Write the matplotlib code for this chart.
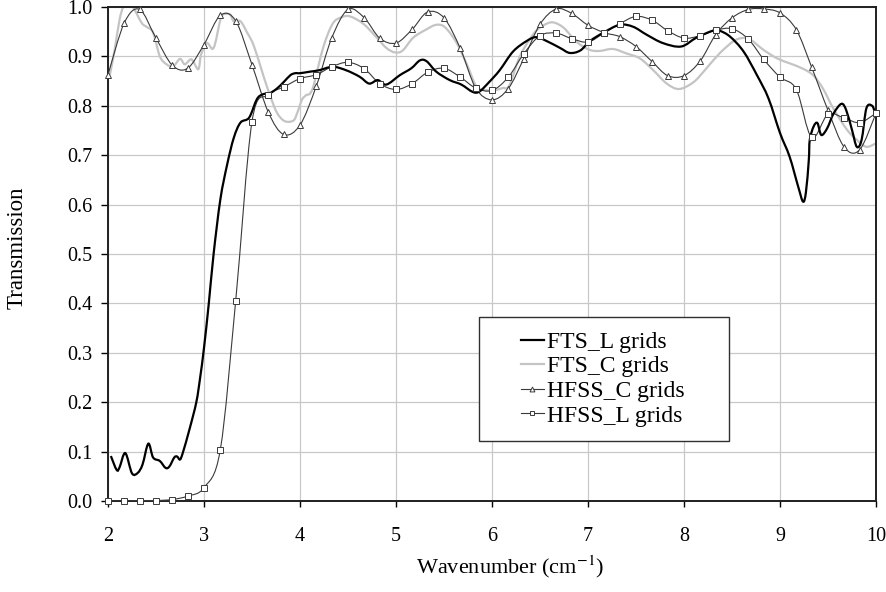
import matplotlib
matplotlib.use('Agg')
import matplotlib.pyplot as plt
import numpy as np
from matplotlib import rc
from matplotlib.path import Path
from matplotlib.patches import PathPatch, Rectangle
from matplotlib.lines import Line2D

rc('font', family='serif', serif=['Liberation Serif', 'DejaVu Serif'])
rc('mathtext', fontset='stix')

# HFSS simulated points (one marker every 1/6 cm^-1)
hfss_x = [2.00, 2.17, 2.33, 2.50, 2.67, 2.83, 3.00, 3.17, 3.33, 3.50,
          3.67, 3.83, 4.00, 4.17, 4.33, 4.50, 4.67, 4.83, 5.00, 5.17,
          5.33, 5.50, 5.67, 5.83, 6.00, 6.17, 6.33, 6.50, 6.67, 6.83,
          7.00, 7.17, 7.33, 7.50, 7.67, 7.83, 8.00, 8.17, 8.33, 8.50,
          8.67, 8.83, 9.00, 9.17, 9.33, 9.50, 9.67, 9.83, 10.00]
hfss_c = [0.863, 0.968, 0.995, 0.937, 0.882, 0.876, 0.924, 0.983, 0.972, 0.883,
          0.787, 0.742, 0.761, 0.840, 0.937, 0.995, 0.978, 0.937, 0.927, 0.955,
          0.990, 0.978, 0.916, 0.836, 0.812, 0.835, 0.895, 0.965, 0.996, 0.987,
          0.963, 0.948, 0.940, 0.920, 0.889, 0.861, 0.861, 0.891, 0.944, 0.978,
          0.995, 0.996, 0.988, 0.954, 0.878, 0.791, 0.716, 0.711, 0.785]
hfss_l = [0.000, 0.000, 0.001, 0.001, 0.003, 0.010, 0.027, 0.104, 0.405, 0.768,
          0.822, 0.838, 0.855, 0.863, 0.879, 0.888, 0.875, 0.845, 0.833, 0.845,
          0.868, 0.876, 0.858, 0.836, 0.831, 0.858, 0.905, 0.942, 0.947, 0.936,
          0.929, 0.948, 0.966, 0.981, 0.973, 0.952, 0.937, 0.942, 0.953, 0.956,
          0.935, 0.894, 0.858, 0.833, 0.736, 0.783, 0.775, 0.766, 0.785]

# FTS measured, L grids
fts_l_x = [2.03, 2.09, 2.12, 2.18, 2.25, 2.31, 2.36, 2.42, 2.47,
           2.54, 2.60, 2.64, 2.69, 2.72, 2.75, 2.78, 2.85, 2.92, 2.96,
           3.00, 3.05, 3.10, 3.17, 3.24, 3.31, 3.38, 3.47, 3.55, 3.61,
           3.69, 3.76, 3.83, 3.90, 3.95, 4.00, 4.10, 4.20, 4.34, 4.48,
           4.62, 4.72, 4.81, 4.90, 5.04, 5.16, 5.25, 5.32, 5.42, 5.56,
           5.68, 5.80, 5.87, 5.97, 6.08, 6.22, 6.36, 6.46, 6.57, 6.71,
           6.81, 6.92, 7.02, 7.16, 7.33, 7.47, 7.61, 7.78, 7.97, 8.13,
           8.30, 8.37, 8.48, 8.62, 8.76, 8.88, 9.00, 9.10, 9.19, 9.24,
           9.27, 9.30, 9.31, 9.35, 9.39, 9.43, 9.49, 9.56, 9.64, 9.69,
           9.75, 9.80, 9.85, 9.90, 9.96, 9.99]
fts_l_y = [0.091, 0.063, 0.068, 0.097, 0.056, 0.057, 0.074, 0.116, 0.088,
           0.081, 0.067, 0.070, 0.088, 0.090, 0.084, 0.098, 0.146, 0.200, 0.250,
           0.310, 0.400, 0.500, 0.610, 0.680, 0.735, 0.766, 0.776, 0.813, 0.823,
           0.826, 0.835, 0.848, 0.862, 0.866, 0.866, 0.869, 0.872, 0.879, 0.872,
           0.859, 0.845, 0.852, 0.843, 0.862, 0.876, 0.892, 0.890, 0.869, 0.852,
           0.843, 0.828, 0.829, 0.848, 0.872, 0.910, 0.931, 0.939, 0.931, 0.917,
           0.907, 0.912, 0.931, 0.948, 0.964, 0.960, 0.944, 0.927, 0.920, 0.938,
           0.952, 0.952, 0.940, 0.910, 0.862, 0.815, 0.745, 0.697, 0.636, 0.606,
           0.625, 0.690, 0.731, 0.758, 0.765, 0.741, 0.754, 0.785, 0.804, 0.791,
           0.751, 0.717, 0.731, 0.795, 0.800, 0.785]

# FTS measured, C grids
fts_c_x = [2.02, 2.07, 2.12, 2.16, 2.21, 2.26, 2.35, 2.40, 2.47, 2.54,
           2.61, 2.68, 2.75, 2.80, 2.87, 2.94, 2.97, 3.03, 3.10, 3.17,
           3.20, 3.27, 3.31, 3.38, 3.45, 3.52, 3.62, 3.69, 3.76, 3.84,
           3.93, 3.97, 4.02, 4.06, 4.13, 4.24, 4.34, 4.43, 4.52, 4.66,
           4.80, 4.90, 4.99, 5.07, 5.18, 5.32, 5.42, 5.51, 5.63, 5.74,
           5.82, 5.87, 6.01, 6.11, 6.18, 6.29, 6.43, 6.53, 6.63, 6.74,
           6.84, 6.91, 7.02, 7.12, 7.26, 7.40, 7.54, 7.68, 7.82, 7.95,
           8.10, 8.23, 8.37, 8.51, 8.60, 8.69, 8.83, 8.97, 9.10, 9.24,
           9.35, 9.45, 9.56, 9.70, 9.80, 9.90, 10.00]
fts_c_y = [0.863, 0.914, 0.974, 1.000, 1.005, 1.000, 0.968, 0.960, 0.948, 0.900,
           0.884, 0.880, 0.895, 0.884, 0.894, 0.874, 0.904, 0.927, 0.917, 0.974,
           0.985, 0.985, 0.971, 0.971, 0.948, 0.921, 0.860, 0.820, 0.786, 0.769,
           0.770, 0.785, 0.812, 0.821, 0.834, 0.917, 0.966, 0.979, 0.981, 0.966,
           0.938, 0.917, 0.908, 0.912, 0.938, 0.955, 0.964, 0.959, 0.928, 0.883,
           0.845, 0.834, 0.831, 0.836, 0.841, 0.900, 0.945, 0.962, 0.969, 0.959,
           0.938, 0.925, 0.913, 0.911, 0.915, 0.906, 0.896, 0.872, 0.845, 0.834,
           0.848, 0.875, 0.906, 0.930, 0.937, 0.934, 0.913, 0.896, 0.886, 0.875,
           0.861, 0.834, 0.793, 0.751, 0.731, 0.717, 0.724]

labels = ['FTS_L grids', 'FTS_C grids', 'HFSS_C grids', 'HFSS_L grids']


def smooth_path(x, y):
    # Excel-style smoothed line: Catmull-Rom segments as cubic Bezier curves
    px = np.concatenate([[x[0]], x, [x[-1]]])
    py = np.concatenate([[y[0]], y, [y[-1]]])
    verts = [(x[0], y[0])]
    codes = [Path.MOVETO]
    for i in range(len(x) - 1):
        c1 = (px[i+1] + (px[i+2] - px[i]) / 6, py[i+1] + (py[i+2] - py[i]) / 6)
        c2 = (px[i+2] - (px[i+3] - px[i+1]) / 6, py[i+2] - (py[i+3] - py[i+1]) / 6)
        verts += [c1, c2, (px[i+2], py[i+2])]
        codes += [Path.CURVE4] * 3
    return Path(verts, codes)


def graph():
    fig = plt.figure(figsize=(8.86, 5.92), dpi=100)
    ax = fig.add_axes([108/886, 1 - 501/592, 768/886, 494/592])

    line_c = '#3a3a3a'
    ax.add_patch(PathPatch(smooth_path(fts_c_x, fts_c_y), fill=False,
                           edgecolor='#c4c4c4', lw=1.6, zorder=2))
    ax.add_patch(PathPatch(smooth_path(hfss_x, hfss_c), fill=False,
                           edgecolor=line_c, lw=0.8, zorder=3))
    ax.add_patch(PathPatch(smooth_path(hfss_x, hfss_l), fill=False,
                           edgecolor=line_c, lw=0.8, zorder=3))
    ax.add_patch(PathPatch(smooth_path(fts_l_x, fts_l_y), fill=False,
                           edgecolor='black', lw=1.6, zorder=4))
    ax.plot(hfss_x, hfss_c, ls='none', marker='^', ms=4.8, mfc='white',
            mec=line_c, mew=0.7, zorder=5, clip_on=False)
    ax.plot(hfss_x, hfss_l, ls='none', marker='s', ms=4.0, mfc='white',
            mec=line_c, mew=0.7, zorder=5, clip_on=False)

    ax.set_xlim(2, 10)
    ax.set_ylim(0, 1.0)
    ax.set_xticks(np.arange(2, 11, 1))
    ax.set_yticks(np.arange(0, 1.01, 0.1))
    ax.set_yticklabels(['%.1f' % v for v in np.arange(0, 1.01, 0.1)])
    ax.grid(True, color='#c8c8c8', lw=0.9)
    ax.set_axisbelow(True)
    for axis in ['top', 'bottom', 'left', 'right']:
        ax.spines[axis].set_linewidth(1.4)
        ax.spines[axis].set_color('#202020')
    ax.tick_params(axis='x', direction='out', length=4.5, width=1,
                   pad=14, labelsize=14.5)
    ax.tick_params(axis='y', direction='out', length=5, width=1,
                   pad=6, labelsize=14.5)

    fig.text(510/886, 1 - 567/592, r'Wavenumber (cm$^{-1}$)', fontsize=16,
             ha='center', va='center')
    fig.text(17/886, 1 - 248/592, 'Transmission', fontsize=16.5,
             rotation=90, ha='center', va='center')

    # legend box
    ax.add_patch(Rectangle((0.483, 0.1215), 0.326, 0.251, transform=ax.transAxes,
                           facecolor='white', edgecolor='#303030', lw=1.0,
                           zorder=6))
    handles = [Line2D([], [], color='black', lw=1.6),
               Line2D([], [], color='#c4c4c4', lw=1.6),
               Line2D([], [], color=line_c, lw=0.8, marker='^', ms=3.5,
                      mfc='white', mec=line_c, mew=0.7),
               Line2D([], [], color=line_c, lw=0.8, marker='s', ms=3,
                      mfc='white', mec=line_c, mew=0.7)]
    leg = ax.legend(handles, labels, loc='center left',
                    bbox_to_anchor=(0.538, 0.247), frameon=False,
                    fontsize=17, handlelength=0.95, handletextpad=0.15,
                    labelspacing=0.13, borderpad=0, borderaxespad=0)
    leg.set_zorder(7)

    plt.savefig('out.png', dpi=100)


if __name__ == '__main__':
    graph()
